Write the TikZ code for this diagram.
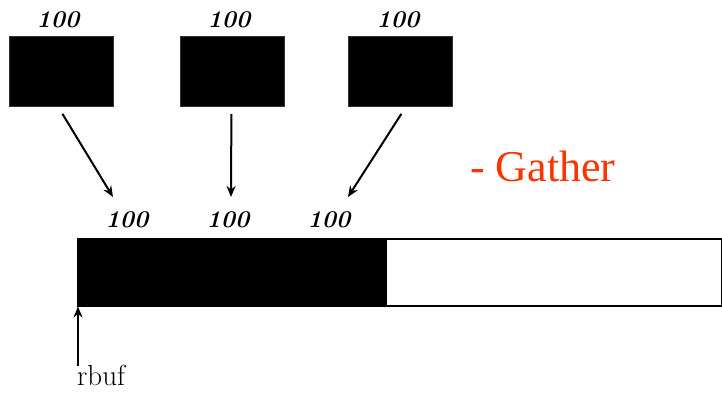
\documentclass[tikz,border=0pt]{standalone}
\usepackage{fontspec}
\usetikzlibrary{arrows.meta}
\newfontfamily\gatherfont{Liberation Serif}
\definecolor{gred}{RGB}{255,51,0}
\begin{document}
\begin{tikzpicture}[x=1pt,y=-1pt,
  srcbox/.style={draw=black!80, line width=0.8pt, fill=black, minimum width=104pt, minimum height=70pt, inner sep=0pt, anchor=north west},
  cnt/.style={font=\fontsize{24}{24}\selectfont\bfseries\itshape, inner sep=0pt, anchor=base},
  arr/.style={line width=2pt, -{Stealth[length=11pt,width=9pt]}}
]
\useasboundingbox (0,0) rectangle (722,392);
% source blocks
\node[srcbox] (b1) at (9,36) {};
\node[srcbox] (b2) at (180,36) {};
\node[srcbox] (b3) at (348,36) {};
\node[cnt] (l1) at (58,27) {100};
\node[cnt] (l2) at (229,27) {100};
\node[cnt] (l3) at (398,27) {100};
% receive buffer
\node[draw=black, line width=1.5pt, fill=white, minimum width=644pt, minimum height=67pt, inner sep=0pt, anchor=north west] (bar) at (77,238) {};
\node[fill=black, draw=black, line width=1.5pt, minimum width=308pt, minimum height=67pt, inner sep=0pt, anchor=north west] (filled) at (77,238) {};
\node[cnt] (m1) at (127,227) {100};
\node[cnt] (m2) at (228,227) {100};
\node[cnt] (m3) at (329,227) {100};
% arrows
\coordinate (e1) at (113,197);
\coordinate (e2) at (231,197);
\coordinate (e3) at (348,197);
\draw[arr] ([xshift=1pt,yshift=-7pt]b1.south) -- (e1);
\draw[arr] ([xshift=-1pt,yshift=-7pt]b2.south) -- (e2);
\draw[arr] ([xshift=1pt,yshift=-7pt]b3.south) -- (e3);
% rbuf
\coordinate (rb) at (78,366);
\draw[arr] (rb) -- ([xshift=1pt]bar.south west);
\node[font=\fontsize{29}{29}\selectfont, inner sep=0pt, anchor=base west] (rbuf) at (77,385) {rbuf};
% label
\node[font=\gatherfont\fontsize{44}{44}\selectfont, text=gred, inner sep=0pt, anchor=base west] (gather) at (470,181) {- Gather};
\end{tikzpicture}
\end{document}
